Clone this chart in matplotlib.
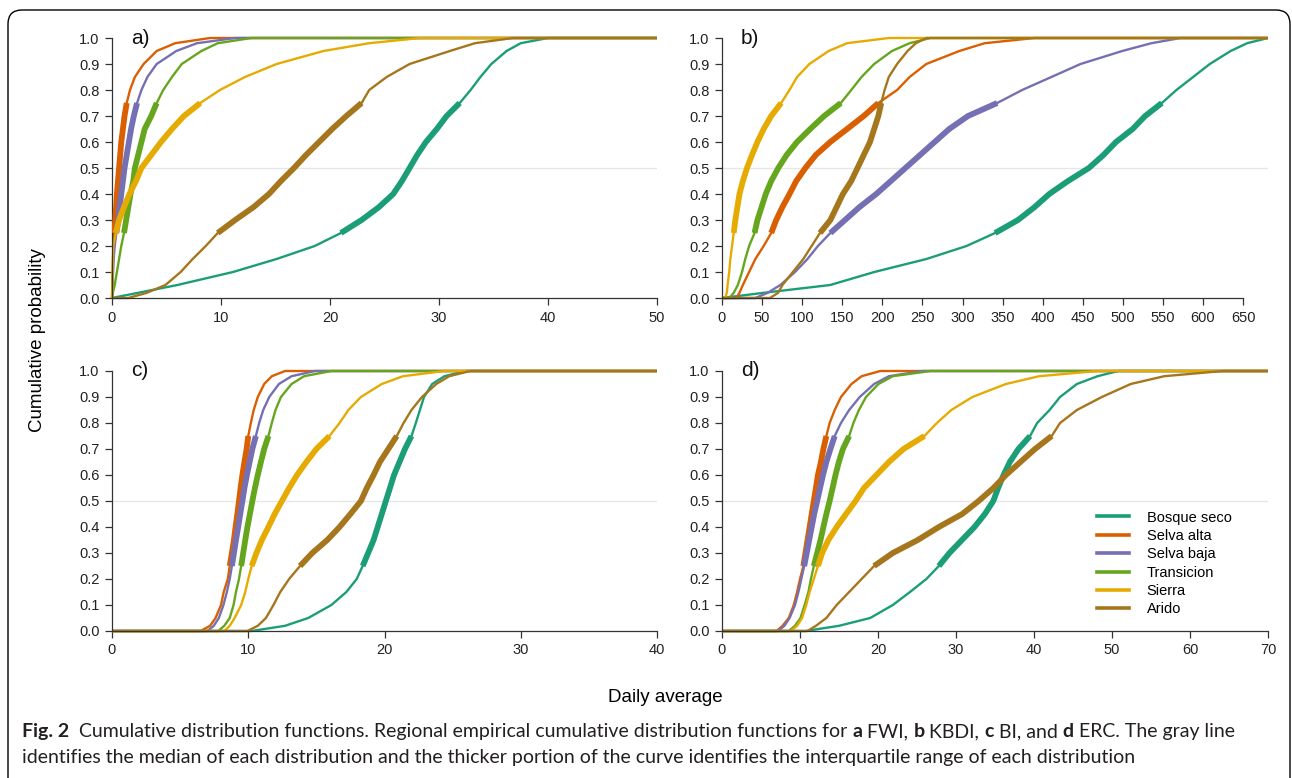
import matplotlib.pyplot as plt
from matplotlib.lines import Line2D
from matplotlib.patches import FancyBboxPatch

plt.rcParams['font.family'] = ['Liberation Sans', 'DejaVu Sans']

regions = ["Bosque seco", "Selva alta", "Selva baja", "Transicion", "Sierra", "Arido"]
colors = ["#1B9E77", "#D95F02", "#7570B3", "#66A61E", "#E6AB02", "#A6761D"]

probs = [0, 0.02, 0.05, 0.1, 0.15, 0.2, 0.25, 0.3, 0.35, 0.4, 0.45, 0.5,
         0.55, 0.6, 0.65, 0.7, 0.75, 0.8, 0.85, 0.9, 0.95, 0.98, 1.0]

# a) FWI quantiles, one row per region
fwi_q = [
    [0, 2.4, 6, 11.1, 15.1, 18.6, 21.0, 22.9, 24.5, 25.8, 26.6, 27.3, 28.0, 28.8, 29.8, 30.7, 31.9, 32.9, 33.8, 34.8, 36.2, 37.5, 40],
    [0, 0.01, 0.03, 0.06, 0.1, 0.15, 0.2, 0.3, 0.38, 0.45, 0.55, 0.65, 0.75, 0.85, 1.0, 1.15, 1.35, 1.65, 2.1, 2.9, 4.1, 5.8, 9.0],
    [0, 0.02, 0.05, 0.1, 0.15, 0.25, 0.4, 0.58, 0.7, 0.85, 1.0, 1.15, 1.35, 1.55, 1.75, 2.0, 2.3, 2.7, 3.25, 4.1, 5.9, 7.8, 11.3],
    [0, 0.08, 0.25, 0.45, 0.65, 0.85, 1.1, 1.3, 1.5, 1.7, 1.95, 2.1, 2.4, 2.7, 3.0, 3.6, 4.1, 4.7, 5.5, 6.4, 8.2, 9.7, 12.8],
    [0, 0.02, 0.04, 0.06, 0.08, 0.12, 0.35, 0.65, 1.1, 1.6, 2.2, 2.7, 3.6, 4.5, 5.5, 6.6, 8.1, 9.9, 12.2, 15.1, 19.4, 23.6, 28.3],
    [1.5, 3.2, 4.9, 6.3, 7.4, 8.6, 9.7, 11.3, 13.0, 14.4, 15.5, 16.7, 17.8, 19.0, 20.2, 21.5, 22.9, 23.6, 25.2, 27.3, 31.0, 33.3, 36.8],
]

# b) KBDI
kbdi_q = [
    [0, 52, 135, 190, 255, 305, 340.6, 369.2, 390, 408.2, 431.6, 457.6, 475.8, 491.4, 512.2, 527.8, 548.6, 566.8, 587.6, 608.4, 634.4, 655, 681],
    [18, 21.8, 26, 33.8, 41.6, 52, 61.4, 67.6, 75.4, 84.2, 92.6, 104, 117, 135, 156, 176.8, 195, 218.4, 234, 254.8, 296, 327.6, 390],
    [41.6, 57, 72.8, 91, 106.6, 119.6, 135.2, 153.4, 171.6, 192.4, 210.6, 228.8, 247, 265.2, 283.4, 306.8, 343.2, 374.4, 410.8, 447.2, 499.2, 535.6, 572],
    [9.4, 14.6, 19.8, 25, 29, 33.8, 40.6, 44.2, 49.4, 54.6, 61.4, 70.2, 80.6, 93.6, 110, 127.4, 148.2, 161.2, 174, 189.8, 212, 234, 260],
    [4, 6, 7, 9, 10.4, 12.5, 14.6, 16.6, 19.2, 21.8, 26, 31.2, 37.4, 44.2, 52, 61.4, 73.8, 84.2, 93.6, 109, 133, 156, 208],
    [60, 70, 75.4, 88.4, 101.4, 111.8, 122.2, 135.2, 143, 150.8, 161.2, 169, 176.8, 184.6, 189.8, 195, 198.6, 202.8, 208, 218.4, 231.4, 241.8, 254.8],
]

# c) BI
bi_q = [
    [10.25, 12.7, 14.4, 16.1, 17.2, 17.96, 18.4, 18.8, 19.2, 19.5, 19.8, 20.1, 20.4, 20.7, 21.1, 21.5, 21.98, 22.3, 22.6, 22.9, 23.5, 24.4, 26.0],
    [6.5, 7.2, 7.6, 8.0, 8.2, 8.5, 8.64, 8.8, 8.95, 9.07, 9.2, 9.32, 9.44, 9.57, 9.72, 9.88, 10.0, 10.19, 10.4, 10.7, 11.17, 11.73, 12.7],
    [7.0, 7.47, 7.84, 8.18, 8.43, 8.64, 8.8, 8.95, 9.1, 9.26, 9.41, 9.57, 9.72, 9.9, 10.1, 10.3, 10.56, 10.8, 11.1, 11.54, 12.25, 13.18, 14.9],
    [7.8, 8.24, 8.64, 8.92, 9.1, 9.32, 9.48, 9.63, 9.78, 9.94, 10.12, 10.3, 10.49, 10.7, 10.93, 11.17, 11.48, 11.73, 12.0, 12.4, 13.18, 14.1, 16.1],
    [8.24, 8.64, 9.0, 9.48, 9.78, 10.0, 10.25, 10.6, 11.0, 11.48, 11.94, 12.47, 13.0, 13.58, 14.26, 15.0, 15.96, 16.7, 17.35, 18.27, 19.8, 21.36, 24.4],
    [9.94, 10.7, 11.3, 11.85, 12.35, 13.0, 13.8, 14.7, 15.8, 16.7, 17.5, 18.27, 18.7, 19.2, 19.66, 20.28, 20.9, 21.4, 21.98, 22.75, 23.8, 24.75, 26.3],
]

# d) ERC
erc_q = [
    [10.7, 15.0, 19.0, 21.9, 24.1, 26.2, 27.8, 29.16, 30.76, 32.37, 33.7, 34.78, 35.4, 36.1, 36.9, 38.0, 39.5, 40.4, 42.0, 43.34, 45.5, 48.15, 50.8],
    [7.0, 7.76, 8.56, 9.2, 9.63, 10.0, 10.43, 10.7, 10.97, 11.24, 11.5, 11.77, 12.04, 12.3, 12.68, 13.0, 13.38, 13.8, 14.45, 15.25, 16.6, 17.9, 20.3],
    [7.2, 8.0, 8.67, 9.36, 9.8, 10.17, 10.54, 10.86, 11.18, 11.5, 11.82, 12.2, 12.57, 12.95, 13.38, 13.9, 14.45, 15.25, 16.3, 17.66, 19.5, 21.4, 25.7],
    [8.56, 9.36, 10.06, 10.6, 11.08, 11.4, 11.77, 12.2, 12.63, 13.0, 13.38, 13.8, 14.18, 14.55, 14.98, 15.5, 16.3, 16.85, 17.55, 18.46, 20.06, 21.9, 26.75],
    [8.83, 9.63, 10.27, 10.8, 11.24, 11.77, 12.3, 12.84, 13.64, 14.7, 15.9, 17.12, 18.2, 19.8, 21.4, 23.27, 25.95, 27.55, 29.4, 32.1, 36.4, 40.66, 48.15],
    [10.97, 12.04, 13.38, 14.7, 16.3, 17.9, 19.5, 21.9, 25.1, 27.8, 30.8, 32.9, 34.8, 36.4, 38.26, 40.13, 42.27, 43.34, 45.5, 48.7, 52.4, 56.7, 64.2],
]

panels = [
    ("a)", fwi_q, 50, list(range(0, 51, 10))),
    ("b)", kbdi_q, 681, list(range(0, 651, 50))),
    ("c)", bi_q, 40, list(range(0, 41, 10))),
    ("d)", erc_q, 70, list(range(0, 71, 10))),
]

W, H = 1292, 778
fig = plt.figure(figsize=(W / 100, H / 100), dpi=100)

# outer rounded frame
frame = FancyBboxPatch((0.08, -0.3), 12.82, 7.98, boxstyle="round,pad=0,rounding_size=0.14",
                       transform=fig.dpi_scale_trans, fill=False, edgecolor="black", lw=1.0)
fig.patches.append(frame)

boxes = [(112, 657, 38, 298), (722, 1268, 38, 298),
         (112, 657, 371, 631), (722, 1268, 371, 631)]

q1 = probs.index(0.25)
q3 = probs.index(0.75)
axes = []
for (label, data, xmax, ticks), (x0, x1, ytop, ybot) in zip(panels, boxes):
    ax = fig.add_axes([x0 / W, 1 - ybot / H, (x1 - x0) / W, (ybot - ytop) / H])
    ax.set_xlim(0, xmax)
    ax.set_ylim(0, 1)
    ax.axhline(0.5, color="#e6e6e6", lw=1.0, zorder=1)
    for qs, c in zip(data, colors):
        xs = [0] + qs + [xmax]
        ys = [0] + probs + [1]
        ax.plot(xs, ys, color=c, lw=1.7, clip_on=False, zorder=2,
                solid_capstyle="butt")
        ax.plot(qs[q1:q3 + 1], probs[q1:q3 + 1], color=c, lw=4.2, zorder=3,
                solid_capstyle="butt")
    for s in ["top", "right"]:
        ax.spines[s].set_visible(False)
    for s in ["left", "bottom"]:
        ax.spines[s].set_color("#333333")
        ax.spines[s].set_linewidth(0.9)
    ax.spines["bottom"].set_bounds(ticks[0], ticks[-1])
    ax.set_xticks(ticks)
    ax.set_yticks([i / 10 for i in range(11)])
    ax.set_yticklabels([f"{i / 10:.1f}" for i in range(11)])
    ax.tick_params(direction="out", length=5, width=0.9, color="#333333",
                   labelsize=10.5, labelcolor="#222222", pad=4)
    ax.text(0.035, 1.0, label, transform=ax.transAxes, fontsize=15,
            ha="left", va="center", color="#111111")
    axes.append(ax)

handles = [Line2D([], [], color=c, lw=2.6) for c in colors]
axes[3].legend(handles, regions, loc="lower right", bbox_to_anchor=(0.96, 0.0),
               frameon=False, fontsize=10.5, handlelength=2.2, handletextpad=1.2,
               labelspacing=0.3, borderaxespad=0.6)

fig.text(38 / W, 1 - 340 / H, "Cumulative probability", rotation=90,
         ha="center", va="center", fontsize=13.5)
fig.text(665 / W, 1 - 697 / H, "Daily average", ha="center", va="center", fontsize=13.5)

# caption, first line mixes bold and normal fragments
cap_font = ['Lato', 'DejaVu Sans']
cap_size = 14
line1 = [("Fig. 2", "bold"),
         ("  Cumulative distribution functions. Regional empirical cumulative distribution functions for ", "normal"),
         ("a", "bold"), (" FWI, ", "normal"), ("b", "bold"), (" KBDI, ", "normal"),
         ("c", "bold"), (" BI, and ", "normal"), ("d", "bold"), (" ERC. The gray line", "normal")]

pieces = [fig.text(0, 0, txt, fontsize=cap_size, fontweight=w, family=cap_font,
                   va="baseline", ha="left", color="#231f20") for txt, w in line1]
fig.canvas.draw()
renderer = fig.canvas.get_renderer()
x = 22 / W
for t in pieces:
    t.set_position((x, 1 - 737 / H))
    x += t.get_window_extent(renderer).width / W

fig.text(22 / W, 1 - 763 / H,
         "identifies the median of each distribution and the thicker portion of the curve "
         "identifies the interquartile range of each distribution",
         fontsize=cap_size, family=cap_font, va="baseline", ha="left", color="#231f20")

fig.savefig("out.png", dpi=100)
